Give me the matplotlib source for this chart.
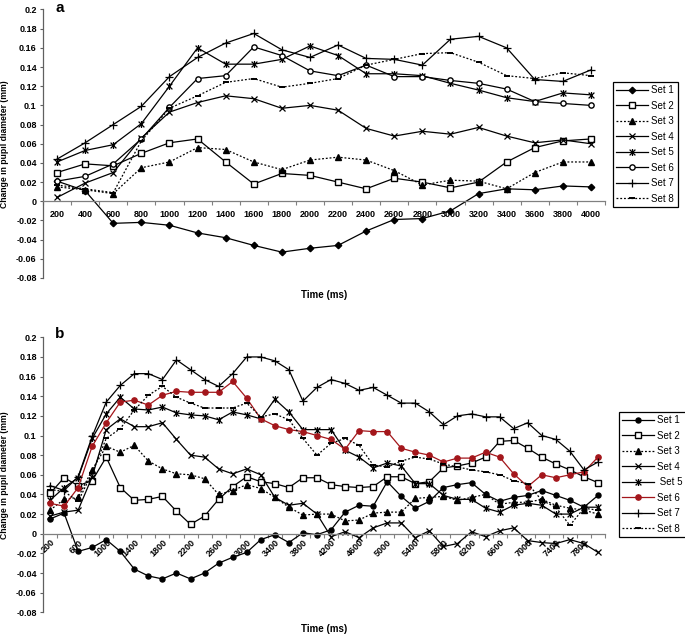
import matplotlib
matplotlib.use("Agg")
import matplotlib.pyplot as plt
from matplotlib.path import Path
from matplotlib.ticker import FixedLocator, FuncFormatter

plt.rcParams["font.family"] = ["Liberation Sans", "DejaVu Sans"]

# ---- panel a: 200..4000 ms ----
TIME_A = [200, 400, 600, 800, 1000, 1200, 1400, 1600, 1800, 2000,
          2200, 2400, 2600, 2800, 3000, 3200, 3400, 3600, 3800, 4000]
SET1_A = [0.021, 0.011, -0.023, -0.022, -0.025, -0.033, -0.038, -0.046, -0.053, -0.049,
          -0.046, -0.031, -0.019, -0.018, -0.010, 0.008, 0.013, 0.012, 0.016, 0.015]
SET2_A = [0.030, 0.039, 0.037, 0.050, 0.061, 0.065, 0.041, 0.018, 0.029, 0.027,
          0.020, 0.013, 0.024, 0.020, 0.014, 0.020, 0.041, 0.056, 0.063, 0.065]
SET3_A = [0.015, 0.012, 0.008, 0.035, 0.041, 0.056, 0.054, 0.041, 0.033, 0.043,
          0.046, 0.043, 0.032, 0.017, 0.022, 0.021, 0.013, 0.030, 0.041, 0.041]
SET4_A = [0.004, 0.019, 0.030, 0.066, 0.093, 0.103, 0.110, 0.107, 0.097, 0.100,
          0.095, 0.076, 0.068, 0.073, 0.070, 0.077, 0.068, 0.061, 0.064, 0.060]
SET5_A = [0.041, 0.053, 0.059, 0.081, 0.120, 0.160, 0.143, 0.143, 0.148, 0.162,
          0.152, 0.133, 0.133, 0.131, 0.123, 0.116, 0.108, 0.104, 0.113, 0.111]
SET6_A = [0.021, 0.026, 0.039, 0.065, 0.098, 0.128, 0.131, 0.161, 0.152, 0.136,
          0.131, 0.142, 0.130, 0.130, 0.126, 0.123, 0.117, 0.104, 0.102, 0.100]
SET7_A = [0.044, 0.061, 0.080, 0.099, 0.130, 0.150, 0.165, 0.175, 0.158, 0.150,
          0.163, 0.149, 0.148, 0.142, 0.169, 0.172, 0.160, 0.127, 0.125, 0.137]
SET8_A = [0.017, 0.013, 0.009, 0.063, 0.097, 0.110, 0.124, 0.128, 0.119, 0.123,
          0.128, 0.142, 0.148, 0.154, 0.155, 0.145, 0.131, 0.128, 0.134, 0.131]

# ---- panel b: 200..8000 ms ----
TIME_B = [200, 400, 600, 800, 1000, 1200, 1400, 1600, 1800, 2000,
          2200, 2400, 2600, 2800, 3000, 3200, 3400, 3600, 3800, 4000,
          4200, 4400, 4600, 4800, 5000, 5200, 5400, 5600, 5800, 6000,
          6200, 6400, 6600, 6800, 7000, 7200, 7400, 7600, 7800, 8000]
SET1_B = [0.015, 0.021, -0.018, -0.014, -0.006, -0.018, -0.036, -0.043, -0.046, -0.040,
          -0.046, -0.040, -0.030, -0.024, -0.019, -0.006, -0.001, -0.009, 0.001, -0.001,
          0.004, 0.022, 0.029, 0.028, 0.053, 0.038, 0.026, 0.033, 0.047, 0.050,
          0.052, 0.040, 0.033, 0.037, 0.039, 0.044, 0.039, 0.034, 0.027, 0.039]
SET2_B = [0.041, 0.057, 0.049, 0.054, 0.078, 0.047, 0.034, 0.035, 0.038, 0.023,
          0.0095, 0.018, 0.035, 0.048, 0.058, 0.053, 0.051, 0.047, 0.057, 0.057,
          0.050, 0.048, 0.047, 0.048, 0.058, 0.058, 0.051, 0.053, 0.067, 0.069,
          0.072, 0.078, 0.094, 0.095, 0.087, 0.078, 0.071, 0.065, 0.058, 0.052]
SET3_B = [0.024, 0.035, 0.037, 0.065, 0.089, 0.083, 0.090, 0.074, 0.066, 0.061,
          0.060, 0.056, 0.040, 0.044, 0.050, 0.046, 0.037, 0.027, 0.019, 0.020,
          0.020, 0.013, 0.014, 0.021, 0.022, 0.022, 0.036, 0.037, 0.038, 0.034,
          0.037, 0.040, 0.030, 0.032, 0.032, 0.035, 0.029, 0.026, 0.024, 0.020]
SET4_B = [0.018, 0.022, 0.024, 0.058, 0.106, 0.117, 0.109, 0.109, 0.113, 0.096,
          0.080, 0.078, 0.066, 0.061, 0.066, 0.060, 0.037, 0.029, 0.031, 0.020,
          -0.003, 0.002, -0.004, 0.006, 0.011, 0.011, -0.004, 0.003, -0.013, -0.010,
          0.002, -0.003, 0.003, 0.006, -0.007, -0.009, -0.010, -0.006, -0.010, -0.019]
SET5_B = [0.034, 0.047, 0.057, 0.097, 0.122, 0.139, 0.127, 0.126, 0.129, 0.123,
          0.121, 0.120, 0.116, 0.124, 0.121, 0.117, 0.137, 0.124, 0.106, 0.106,
          0.106, 0.085, 0.078, 0.067, 0.072, 0.069, 0.051, 0.051, 0.039, 0.035,
          0.035, 0.026, 0.022, 0.029, 0.031, 0.029, 0.020, 0.020, 0.027, 0.027]
SET6_B = [0.031, 0.028, 0.047, 0.089, 0.113, 0.134, 0.136, 0.131, 0.141, 0.145,
          0.144, 0.144, 0.144, 0.155, 0.138, 0.117, 0.110, 0.106, 0.104, 0.100,
          0.096, 0.086, 0.105, 0.104, 0.104, 0.087, 0.083, 0.080, 0.073, 0.077,
          0.077, 0.083, 0.078, 0.061, 0.048, 0.060, 0.057, 0.060, 0.063, 0.078]
SET7_B = [0.049, 0.044, 0.058, 0.099, 0.134, 0.151, 0.163, 0.163, 0.157, 0.177,
          0.167, 0.157, 0.150, 0.163, 0.180, 0.180, 0.176, 0.167, 0.135, 0.149,
          0.157, 0.153, 0.146, 0.149, 0.141, 0.133, 0.133, 0.124, 0.111, 0.120,
          0.122, 0.119, 0.119, 0.107, 0.113, 0.100, 0.096, 0.084, 0.065, 0.073]
SET8_B = [0.045, 0.043, 0.033, 0.062, 0.097, 0.107, 0.126, 0.141, 0.150, 0.139,
          0.133, 0.128, 0.128, 0.128, 0.133, 0.119, 0.122, 0.116, 0.097, 0.080,
          0.092, 0.097, 0.090, 0.070, 0.068, 0.074, 0.078, 0.076, 0.071, 0.068,
          0.065, 0.063, 0.060, 0.054, 0.051, 0.034, 0.027, 0.0085, 0.026, 0.024]

LABELS_A = ["Set 1", "Set 2", "Set 3", "Set 4", "Set 5", "Set 6", "Set 7", "Set 8"]
LABELS_B = ["Set 1", "Set 2", "Set 3", "Set 4", " Set 5", "Set 6", "Set 7", "Set 8"]
Y_TICKS = [-0.08, -0.06, -0.04, -0.02, 0, 0.02, 0.04, 0.06, 0.08, 0.1,
           0.12, 0.14, 0.16, 0.18, 0.2]

RED = "#a3161b"
DOT = (0, (1.5, 1.5))

# excel style "star": an x with a vertical bar
STAR = Path([(-1, -1), (1, 1), (-1, 1), (1, -1), (0, -1.2), (0, 1.2)],
            [Path.MOVETO, Path.LINETO, Path.MOVETO, Path.LINETO, Path.MOVETO, Path.LINETO])


def series_styles(panel_b: bool) -> list[dict]:
    six_col = RED if panel_b else "black"
    return [
        dict(marker="o" if panel_b else "D", ms=3.6 if panel_b else 3.3, mfc="black", ls="-"),
        dict(marker="s", ms=4.0, mfc="white", ls="-"),
        dict(marker="^", ms=4.2, mfc="black", ls=DOT),
        dict(marker="x", ms=4.2, mfc="none", ls="-", mew=0.9),
        dict(marker=STAR, ms=5.0, mfc="none", ls="-", mew=0.9),
        dict(marker="o", ms=3.8, mfc=six_col if panel_b else "white", ls="-",
             color=six_col, mec=six_col),
        dict(marker="+", ms=5.5, mfc="none", ls="-", mew=0.9),
        dict(marker="_", ms=5.0, mfc="black", ls=DOT, mew=1.4),
    ]


def setup_axis(ax, times, label_step, rotate):
    step = times[1] - times[0]
    ax.set_xlim(times[0] - step / 2, times[-1] + step / 2)
    ax.set_ylim(-0.08, 0.2)
    for side in ("top", "right"):
        ax.spines[side].set_visible(False)
    ax.spines["bottom"].set_position(("data", 0))
    ax.spines["bottom"].set_color("#808080")
    ax.spines["left"].set_color("#606060")
    ax.spines["bottom"].set_linewidth(0.9)
    ax.spines["left"].set_linewidth(0.9)

    ax.xaxis.set_major_locator(FixedLocator(times[::label_step]))
    ax.xaxis.set_minor_locator(FixedLocator([t - step / 2 for t in times] + [times[-1] + step / 2]))
    ax.tick_params(axis="x", which="major", length=0, pad=6 if not rotate else 3,
                   labelsize=6.5)
    ax.tick_params(axis="x", which="minor", length=2.8, width=0.8, color="#808080",
                   direction="out")
    for lab in ax.get_xticklabels():
        lab.set_fontweight("bold")
    if rotate:
        ax.set_xticks(times[::label_step])
        ax.set_xticklabels([str(t) for t in times[::label_step]], rotation=45,
                           ha="right", va="top", rotation_mode="anchor",
                           fontweight="bold", fontsize=6.5)

    ax.yaxis.set_major_locator(FixedLocator(Y_TICKS))
    ax.yaxis.set_major_formatter(FuncFormatter(lambda v, _: f"{round(v, 2):g}"))
    ax.tick_params(axis="y", length=2.5, width=0.8, color="#606060", pad=2,
                   labelsize=6.5)
    for lab in ax.get_yticklabels():
        lab.set_fontweight("bold")

    ax.set_ylabel("Change in pupil diameter (mm)", fontsize=6.2, fontweight="bold")
    ax.yaxis.set_label_coords(-0.06, 0.5)
    ax.set_xlabel("Time (ms)", fontsize=7, fontweight="bold")


def draw_panel(ax, times, series, panel_b):
    handles = []
    for values, style in zip(series, series_styles(panel_b)):
        style = dict(style)
        style.setdefault("color", "black")
        style.setdefault("mec", style["color"])
        (line,) = ax.plot(times, values, lw=0.9, clip_on=False, **style)
        handles.append(line)
    return handles


figure = plt.figure(figsize=(6.85, 6.34), dpi=100)
ax_a = figure.add_axes([43 / 685, 1 - 278 / 634, 562 / 685, 268.5 / 634])
ax_b = figure.add_axes([43 / 685, 1 - 612.3 / 634, 562 / 685, 275 / 634])

series_a = [SET1_A, SET2_A, SET3_A, SET4_A, SET5_A, SET6_A, SET7_A, SET8_A]
series_b = [SET1_B, SET2_B, SET3_B, SET4_B, SET5_B, SET6_B, SET7_B, SET8_B]

handles_a = draw_panel(ax_a, TIME_A, series_a, panel_b=False)
handles_b = draw_panel(ax_b, TIME_B, series_b, panel_b=True)

setup_axis(ax_a, TIME_A, 1, rotate=False)
setup_axis(ax_b, TIME_B, 2, rotate=True)
ax_a.xaxis.set_label_coords(0.5, -0.045)
ax_b.xaxis.set_label_coords(0.5, -0.042)

legend_kw = dict(loc="upper left", bbox_transform=figure.transFigure, borderaxespad=0,
                 fontsize=7, handlelength=3.3, handletextpad=0.3, labelspacing=0.56,
                 fancybox=False, edgecolor="black", framealpha=1, borderpad=0.35)
leg_a = ax_a.legend(handles_a, LABELS_A, bbox_to_anchor=(613 / 685, 1 - 82 / 634), **legend_kw)
leg_b = ax_b.legend(handles_b, LABELS_B, bbox_to_anchor=(619 / 685, 1 - 412 / 634), **legend_kw)
for leg in (leg_a, leg_b):
    leg.get_frame().set_linewidth(0.9)

figure.text(55 / 685, 1 - 1 / 634, "a", fontsize=11, fontweight="bold", va="top")
figure.text(55 / 685, 1 - 327 / 634, "b", fontsize=11, fontweight="bold", va="top")

figure.savefig("out.png", dpi=100)
